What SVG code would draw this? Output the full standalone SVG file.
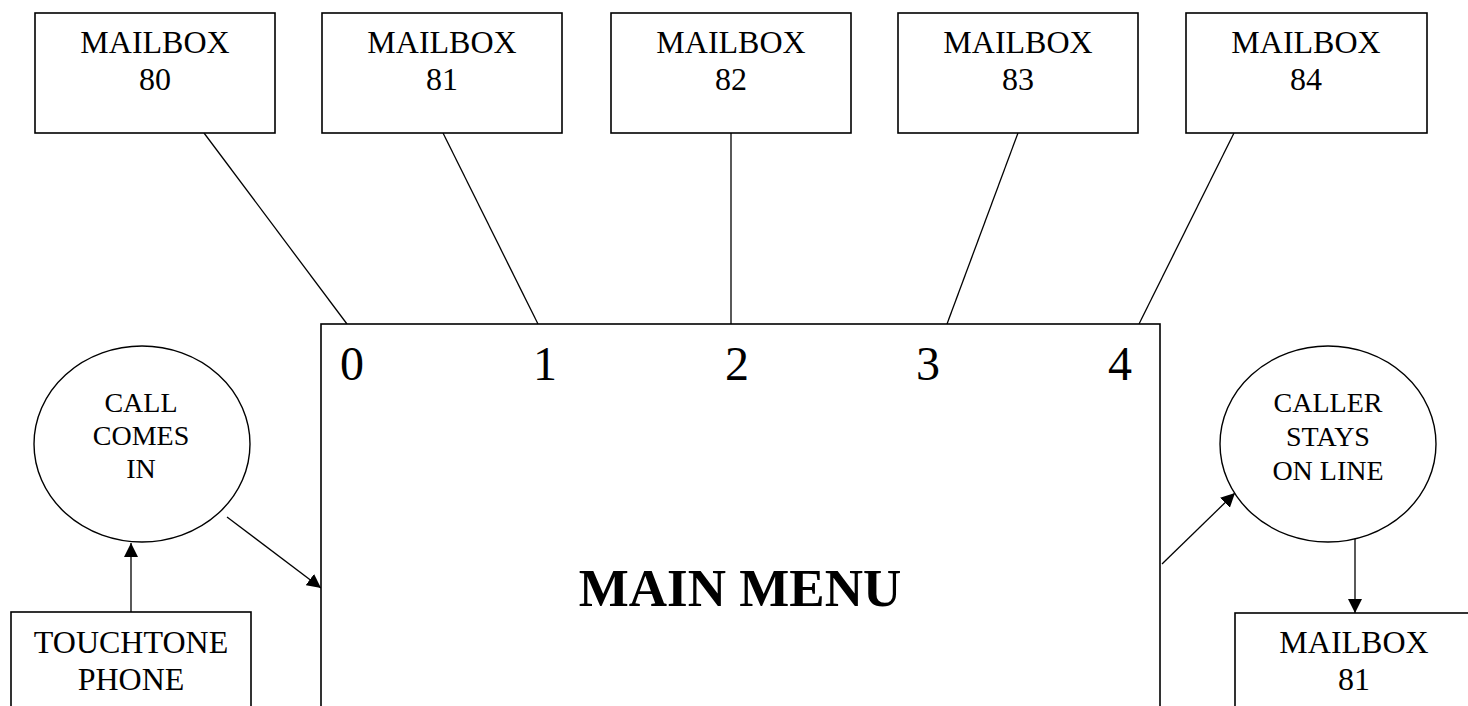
<svg xmlns="http://www.w3.org/2000/svg" width="1468" height="706" viewBox="0 0 1468 706">
  <style>
    .box { fill: #fff; stroke: #000; stroke-width: 1.6; }
    .oval { fill: #fff; stroke: #000; stroke-width: 1.4; }
    .wire { fill: none; stroke: #000; stroke-width: 1.3; }
    .lbl { font-family: "Liberation Serif", "Times New Roman", serif; font-size: 32px; fill: #000; text-anchor: middle; }
    .small { font-size: 28px; }
    .digit { font-size: 48px; }
    .title { font-size: 53px; font-weight: bold; }
  </style>
  <defs>
    <marker id="arrow" markerUnits="userSpaceOnUse" markerWidth="14" markerHeight="14" viewBox="0 0 14 14" refX="14" refY="7" orient="auto">
      <path d="M0,0 L14,7 L0,14 Z" fill="#000"/>
    </marker>
  </defs>

  <rect width="1468" height="706" fill="#fff"/>

  <!-- connectors -->
  <g id="connectors">
    <line class="wire" x1="204" y1="133" x2="347" y2="324"/>
    <line class="wire" x1="443" y1="133" x2="538" y2="324"/>
    <line class="wire" x1="731" y1="133" x2="731" y2="324"/>
    <line class="wire" x1="1018" y1="133" x2="947" y2="324"/>
    <line class="wire" x1="1234" y1="133" x2="1139" y2="324"/>
    <line class="wire" x1="131" y1="612" x2="131" y2="543" marker-end="url(#arrow)"/>
    <line class="wire" x1="227" y1="517" x2="321" y2="588" marker-end="url(#arrow)"/>
    <line class="wire" x1="1162" y1="564" x2="1235" y2="493" marker-end="url(#arrow)"/>
    <line class="wire" x1="1355" y1="538" x2="1355" y2="613" marker-end="url(#arrow)"/>
  </g>

  <!-- top row of mailboxes -->
  <g id="mailbox-80">
    <rect class="box" x="35" y="13" width="240" height="120"/>
    <text class="lbl" x="155" y="53">MAILBOX</text>
    <text class="lbl" x="155" y="90">80</text>
  </g>
  <g id="mailbox-81">
    <rect class="box" x="322" y="13" width="240" height="120"/>
    <text class="lbl" x="442" y="53">MAILBOX</text>
    <text class="lbl" x="442" y="90">81</text>
  </g>
  <g id="mailbox-82">
    <rect class="box" x="611" y="13" width="240" height="120"/>
    <text class="lbl" x="731" y="53">MAILBOX</text>
    <text class="lbl" x="731" y="90">82</text>
  </g>
  <g id="mailbox-83">
    <rect class="box" x="898" y="13" width="240" height="120"/>
    <text class="lbl" x="1018" y="53">MAILBOX</text>
    <text class="lbl" x="1018" y="90">83</text>
  </g>
  <g id="mailbox-84">
    <rect class="box" x="1186" y="13" width="241" height="120"/>
    <text class="lbl" x="1306" y="53">MAILBOX</text>
    <text class="lbl" x="1306" y="90">84</text>
  </g>

  <!-- main menu panel -->
  <g id="main-menu">
    <rect class="box" x="321" y="324" width="839" height="400"/>
    <text class="lbl digit" x="352" y="380">0</text>
    <text class="lbl digit" x="545" y="380">1</text>
    <text class="lbl digit" x="737" y="380">2</text>
    <text class="lbl digit" x="928" y="380">3</text>
    <text class="lbl digit" x="1120" y="380">4</text>
    <text class="lbl title" x="740" y="606">MAIN MENU</text>
  </g>

  <!-- incoming call -->
  <g id="call-comes-in">
    <ellipse class="oval" cx="142" cy="444" rx="108" ry="98"/>
    <text class="lbl small" x="141" y="412">CALL</text>
    <text class="lbl small" x="141" y="445">COMES</text>
    <text class="lbl small" x="141" y="478">IN</text>
  </g>

  <g id="touchtone-phone">
    <rect class="box" x="11" y="612" width="240" height="120"/>
    <text class="lbl" x="131" y="653">TOUCHTONE</text>
    <text class="lbl" x="131" y="690">PHONE</text>
  </g>

  <!-- caller holds -->
  <g id="caller-stays">
    <ellipse class="oval" cx="1328" cy="444" rx="108" ry="98"/>
    <text class="lbl small" x="1328" y="412">CALLER</text>
    <text class="lbl small" x="1328" y="446">STAYS</text>
    <text class="lbl small" x="1328" y="480">ON LINE</text>
  </g>

  <g id="mailbox-81-direct">
    <rect class="box" x="1235" y="613" width="240" height="120"/>
    <text class="lbl" x="1354" y="653">MAILBOX</text>
    <text class="lbl" x="1354" y="690">81</text>
  </g>
</svg>
